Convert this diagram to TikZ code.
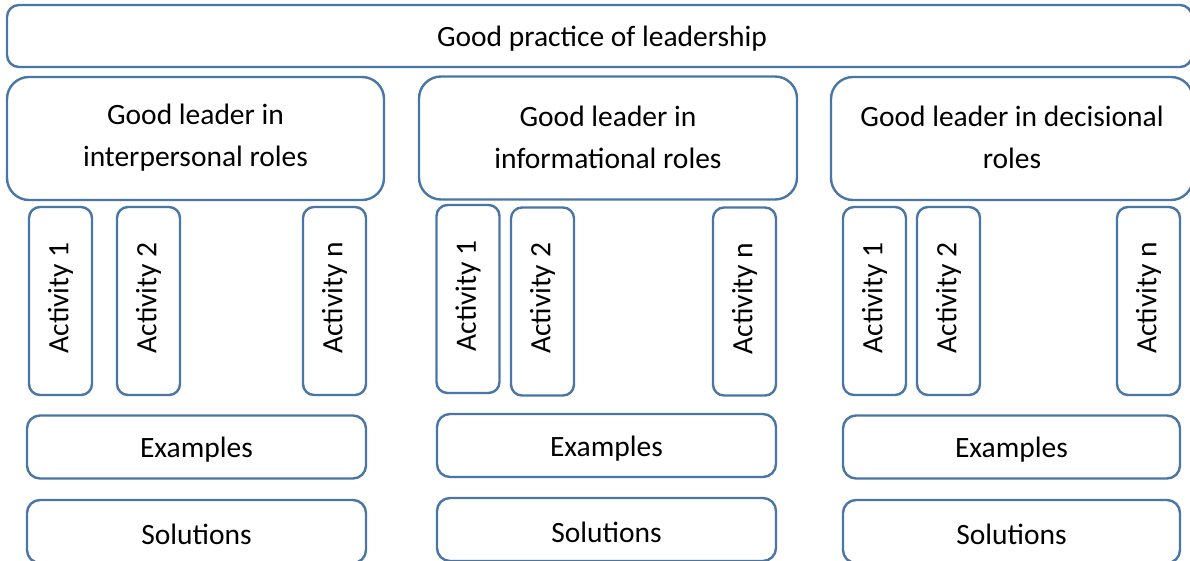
\documentclass[tikz,border=0pt]{standalone}
\usepackage{fontspec}
\setmainfont{Carlito}
\definecolor{lineblue}{HTML}{4A76A6}
\begin{document}
\begin{tikzpicture}[x=1pt,y=-1pt,
  bigfont/.style={font=\fontsize{29.5}{42}\selectfont},
  bx/.style={draw=lineblue, line width=2.4pt, fill=white, inner sep=0pt, align=center, bigfont},
  topbox/.style={bx, rounded corners=12pt, minimum width=1185pt, minimum height=62pt},
  rolebox/.style={bx, rounded corners=22pt, minimum height=123pt},
  actbox/.style={bx, rounded corners=11pt, minimum width=63pt, minimum height=188pt},
  actlabel/.style={rotate=90, inner sep=0pt, bigfont, xshift=3pt},
  lbl/.style={inner sep=0pt, bigfont, yshift=-3pt},
  rolelbl/.style={inner sep=0pt, bigfont, align=center, yshift=1pt},
  wide/.style={bx, rounded corners=13pt, minimum width=339pt, minimum height=63pt}]
\useasboundingbox (0,0) rectangle (1190,561);
\clip (0,0) rectangle (1190,561);
% top
\node[topbox] (top) at (599.5,36) {};
\node[lbl] at (602,36) {Good practice of leadership};
% role boxes
\node[rolebox, minimum width=377pt] (r1) at (195.5,138.5) {};
\node[rolelbl] at (r1) {Good leader in\\interpersonal roles};
\node[rolebox, minimum width=378pt] (r2) at (608,138) {};
\node[rolelbl] at (r2) {Good leader in\\informational roles};
\node[rolebox, minimum width=362pt] (r3) at (1012,138.5) {};
\node[rolelbl] at (r3) {Good leader in decisional\\roles};
% activities group 1
\node[actbox] (a11) at (60.5,301) {};
\node[actlabel] at (a11) {Activity 1};
\node[actbox] (a12) at (148.5,301) {};
\node[actlabel] at (a12) {Activity 2};
\node[actbox] (a1n) at (334.5,301) {};
\node[actlabel] at (a1n) {Activity n};
% activities group 2
\node[actbox] (a21) at (468,299) {};
\node[actlabel] at (a21) {Activity 1};
\node[actbox] (a22) at (542.5,301.5) {};
\node[actlabel] at (a22) {Activity 2};
\node[actbox] (a2n) at (744.5,301.5) {};
\node[actlabel] at (a2n) {Activity n};
% activities group 3
\node[actbox] (a31) at (874.5,301) {};
\node[actlabel] at (a31) {Activity 1};
\node[actbox] (a32) at (948.5,301) {};
\node[actlabel] at (a32) {Activity 2};
\node[actbox] (a3n) at (1148.5,301) {};
\node[actlabel] at (a3n) {Activity n};
% examples and solutions
\node[wide] (e1) at (196.5,447) {};
\node[lbl] at (e1) {Examples};
\node[wide] (e2) at (606.5,445.5) {};
\node[lbl] at (e2) {Examples};
\node[wide, minimum width=337pt] (e3) at (1011.5,447) {};
\node[lbl] at (e3) {Examples};
\node[wide] (s1) at (196.5,531.5) {};
\node[lbl] at (s1) {Solutions};
\node[wide] (s2) at (606.5,529.5) {};
\node[lbl] at (s2) {Solutions};
\node[wide, minimum width=337pt] (s3) at (1011.5,531.5) {};
\node[lbl] at (s3) {Solutions};
\end{tikzpicture}
\end{document}
